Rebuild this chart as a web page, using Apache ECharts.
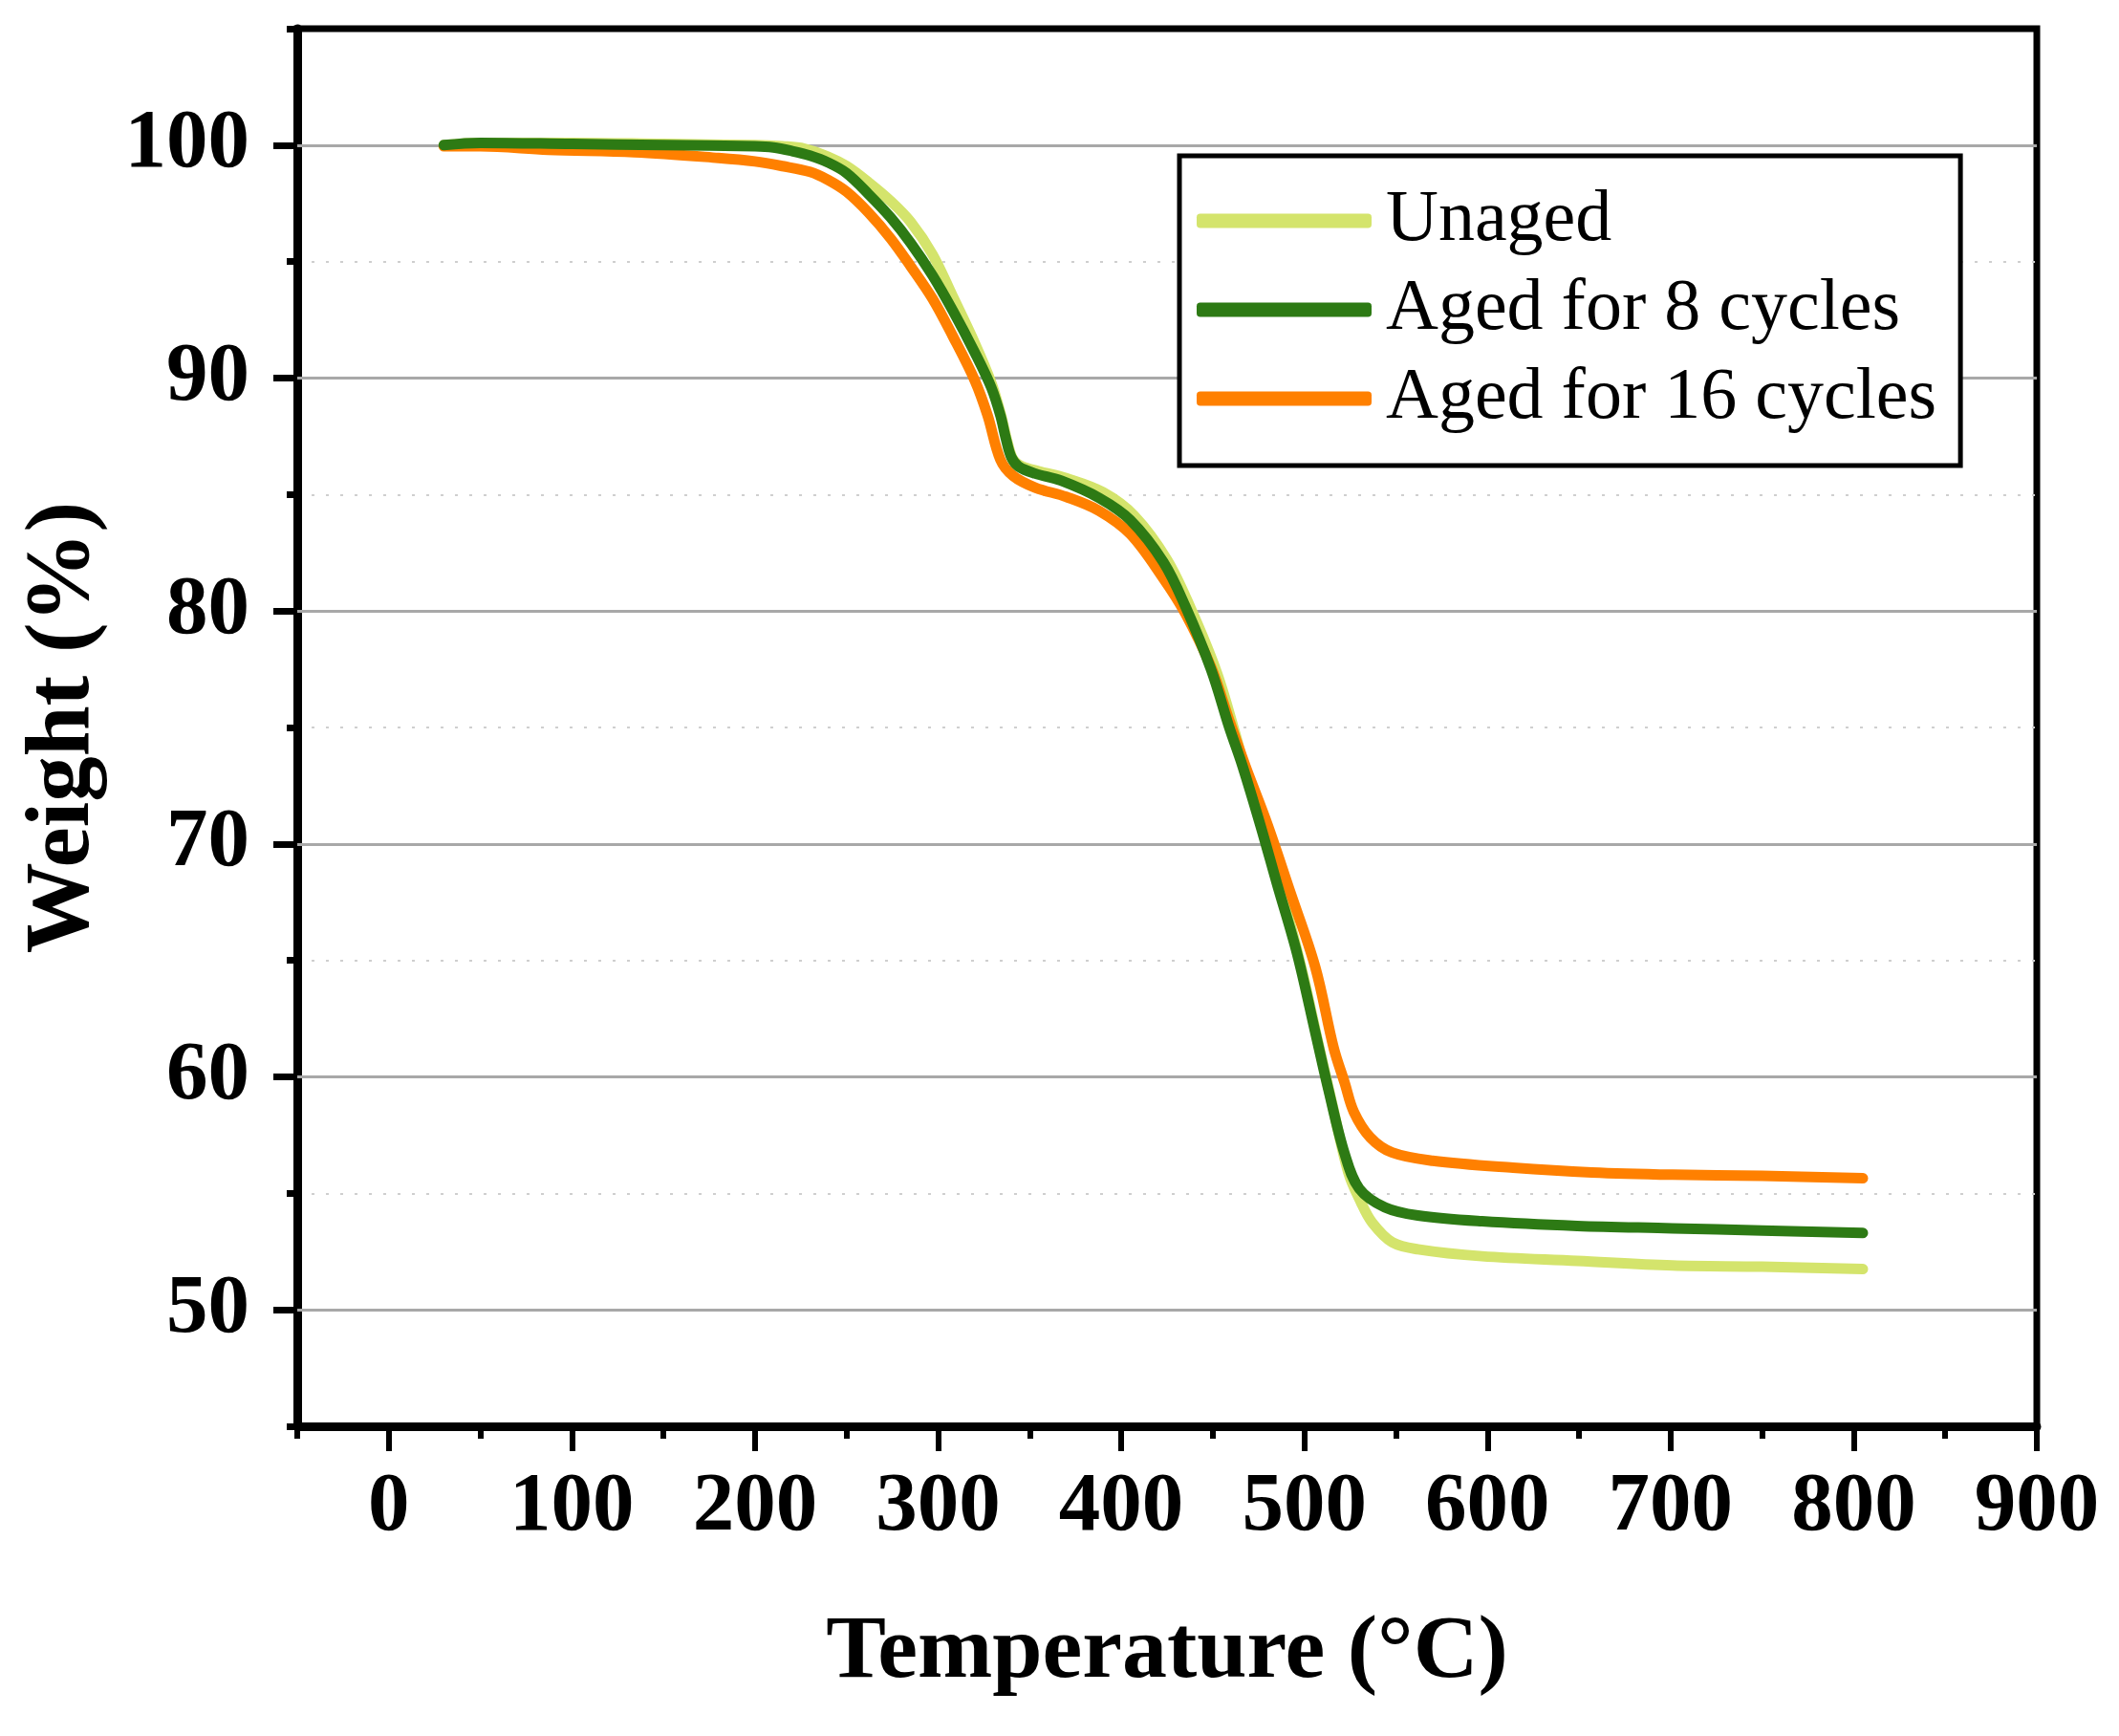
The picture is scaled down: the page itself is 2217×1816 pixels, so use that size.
<!DOCTYPE html>
<html lang="en">
<head>
  <meta charset="utf-8">
</head>
<body style="margin: 0; background: #fff">
  <div id="container" style="width: 2217px; height: 1816px"></div>

  <script type="text/javascript" src="https://fastly.jsdelivr.net/npm/echarts@6/dist/echarts.min.js"></script>

  <script type="text/javascript">
    // TGA curves, temperature (°C) and weight (%)
    var unagedT = [30, 50, 100, 150, 200, 215, 227, 240, 250, 262, 274, 285, 297, 308, 320, 329, 334, 338, 341, 346, 355, 370, 390, 407, 425, 438, 452, 462, 470, 479, 488, 498, 508, 515, 524, 531, 537, 548, 562, 597, 649, 701, 750, 805];
    var unagedW = [100.0, 100.1, 100.1, 100.05, 100.0, 99.95, 99.85, 99.5, 99.1, 98.4, 97.6, 96.7, 95.3, 93.5, 91.5, 89.8, 88.5, 87.2, 86.5, 86.2, 86.0, 85.7, 85.1, 84.1, 82.2, 80.1, 77.4, 74.8, 72.5, 70.2, 67.8, 64.8, 61.3, 58.9, 55.9, 54.6, 53.75, 52.9, 52.6, 52.3, 52.1, 51.9, 51.85, 51.75];

    var aged8T = [30, 50, 100, 150, 200, 210, 220, 230, 240, 250, 262, 274, 285, 297, 308, 320, 329, 334, 337, 340, 344, 353, 367, 388, 405, 423, 435, 449, 459, 466, 476, 485, 496, 506, 513, 522, 530, 544, 562, 597, 649, 701, 750, 805];
    var aged8W = [100.0, 100.1, 100.05, 100.0, 99.95, 99.9, 99.75, 99.55, 99.25, 98.8, 97.9, 96.9, 95.8, 94.4, 92.9, 91.1, 89.6, 88.4, 87.4, 86.6, 86.2, 85.9, 85.6, 84.85, 83.9, 82.1, 80.2, 77.5, 75.0, 73.4, 70.8, 68.3, 65.3, 61.9, 59.5, 56.7, 55.2, 54.4, 54.05, 53.8, 53.6, 53.5, 53.4, 53.3];

    var aged16T = [30, 50, 87, 134, 180, 200, 215, 230, 240, 250, 262, 274, 285, 297, 308, 320, 327, 334, 341, 353, 370, 388, 405, 423, 435, 449, 459, 468, 480, 492, 506, 516, 522, 527, 536, 548, 570, 614, 657, 701, 750, 805];
    var aged16W = [99.95, 99.95, 99.8, 99.7, 99.45, 99.3, 99.1, 98.85, 98.5, 98.0, 97.1, 96.0, 94.8, 93.4, 91.8, 89.9, 88.4, 86.5, 85.8, 85.3, 84.9, 84.3, 83.3, 81.4, 79.9, 77.6, 75.3, 73.3, 70.8, 68.0, 64.7, 61.25, 59.75, 58.5, 57.4, 56.75, 56.4, 56.1, 55.9, 55.8, 55.75, 55.65];

    var seriesNames = ['Unaged', 'Aged for 8 cycles', 'Aged for 16 cycles'];
    // tick positions every 50 °C / 5 %, labelled every 100 °C / 10 %
    var xTicks = ['-50', '0', '50', '100', '150', '200', '250', '300', '350', '400', '450', '500', '550', '600', '650', '700', '750', '800', '850', '900'];
    var yTicks = ['45', '50', '55', '60', '65', '70', '75', '80', '85', '90', '95', '100', '105'];
    var yGrid = [50, 60, 70, 80, 90, 100];

    function pairs(xs, ys) {
      return xs.map(function (x, i) { return [x, ys[i]]; });
    }

    var font = "'Liberation Serif', 'Times New Roman', serif";

    var dom = document.getElementById('container');
    var myChart = echarts.init(dom, null, { renderer: 'canvas' });

    function isMajorX(index, value) { return Number(value) % 100 === 0; }
    function isMajorY(index, value) { return Number(value) % 10 === 0; }

    function curve(name, color, xs, ys, extra) {
      var s = {
        name: name,
        type: 'line',
        xAxisIndex: 1,
        yAxisIndex: 1,
        data: pairs(xs, ys),
        showSymbol: false,
        symbol: 'none',
        smooth: 0.35,
        color: color,
        lineStyle: { color: color, width: 11, cap: 'round', join: 'round' },
        animation: false
      };
      return Object.assign(s, extra || {});
    }

    var option = {
      backgroundColor: '#fff',
      animation: false,
      grid: {
        left: 311, right: 86, top: 30, bottom: 324,
        show: true, borderColor: '#000', borderWidth: 7,
        containLabel: false, outerBoundsMode: 'none'
      },
      legend: {
        data: seriesNames,
        orient: 'vertical',
        left: 1234,
        top: 163,
        padding: [30, 25, 32, 18],
        itemGap: 17,
        itemWidth: 183,
        itemHeight: 15,
        icon: 'roundRect',
        borderColor: '#000',
        borderWidth: 5,
        backgroundColor: '#fff',
        textStyle: {
          fontFamily: font, fontSize: 76, color: '#000',
          lineHeight: 76, padding: [0, 0, 0, 10]
        }
      },
      xAxis: [
        {
          type: 'category', data: xTicks, boundaryGap: false, position: 'bottom',
          name: 'Temperature (°C)',
          nameLocation: 'middle', nameGap: 191,
          nameTextStyle: { fontFamily: font, fontSize: 94, fontWeight: 'bold', color: '#000' },
          axisLine: { show: true, onZero: false, lineStyle: { color: '#000', width: 9 } },
          axisTick: { show: true, interval: isMajorX, length: 26, lineStyle: { color: '#000', width: 6 } },
          axisLabel: {
            interval: isMajorX, margin: 42,
            fontFamily: font, fontSize: 87, fontWeight: 'bold', color: '#000'
          },
          splitLine: { show: false }
        },
        {
          type: 'value', min: -50, max: 900, interval: 50, position: 'bottom',
          axisLine: { show: false, onZero: false },
          axisTick: { show: true, length: 13, lineStyle: { color: '#000', width: 6 } },
          axisLabel: { show: false },
          splitLine: { show: false }
        }
      ],
      yAxis: [
        {
          type: 'category', data: yTicks, boundaryGap: false, position: 'left',
          name: 'Weight (%)',
          nameLocation: 'middle', nameGap: 196,
          nameTextStyle: { fontFamily: font, fontSize: 95, fontWeight: 'bold', color: '#000' },
          axisLine: { show: true, onZero: false, lineStyle: { color: '#000', width: 9 } },
          axisTick: { show: true, interval: isMajorY, length: 25, lineStyle: { color: '#000', width: 7 } },
          axisLabel: {
            interval: isMajorY, margin: 50,
            fontFamily: font, fontSize: 87, fontWeight: 'bold', color: '#000'
          },
          splitLine: { show: false }
        },
        {
          type: 'value', min: 45, max: 105, interval: 5, position: 'left',
          axisLine: { show: false, onZero: false },
          axisTick: { show: true, length: 11, lineStyle: { color: '#000', width: 7 } },
          axisLabel: { show: false },
          splitLine: {
            show: true, showMinLine: false, showMaxLine: false,
            lineStyle: { color: '#cfcfcf', width: 2, type: [3, 12] }
          }
        }
      ],
      series: [
        curve(seriesNames[0], '#d4e46c', unagedT, unagedW, {
          markLine: {
            silent: true,
            z: 1,
            symbol: 'none',
            label: { show: false },
            lineStyle: { color: '#a8a8a8', width: 3, type: 'solid' },
            data: yGrid.map(function (v) { return { yAxis: v }; })
          }
        }),
        curve(seriesNames[2], '#ff8000', aged16T, aged16W),
        curve(seriesNames[1], '#2d7a14', aged8T, aged8W)
      ]
    };

    myChart.setOption(option);

    window.addEventListener('resize', myChart.resize);
  </script>
</body>
</html>
